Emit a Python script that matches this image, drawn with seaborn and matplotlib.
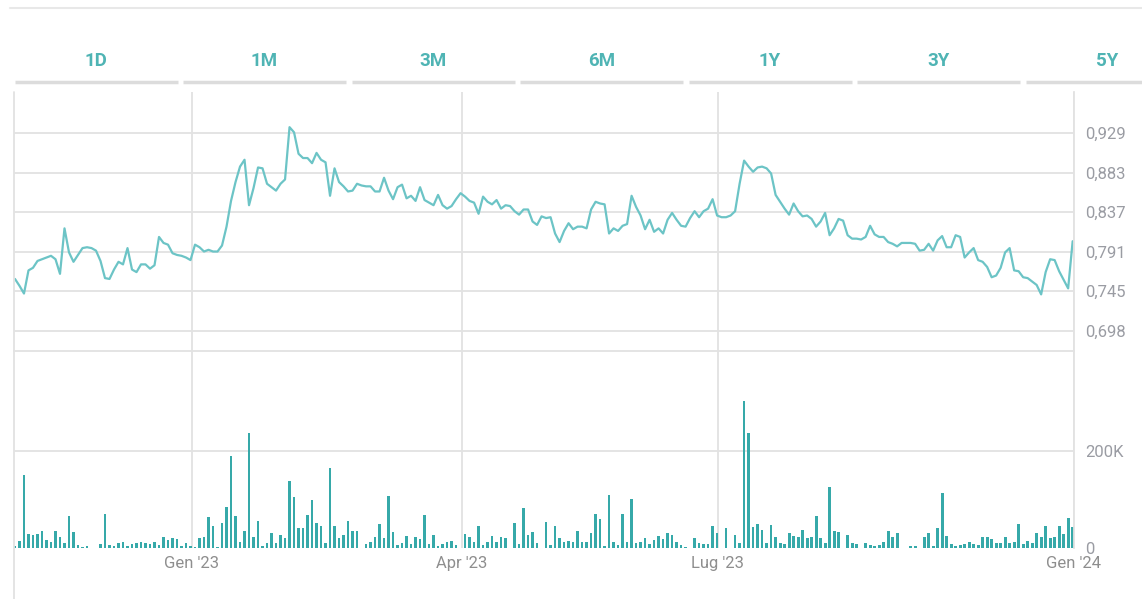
import numpy as np
import pandas as pd
import seaborn as sns
import matplotlib.pyplot as plt
from matplotlib.lines import Line2D

# one entry per trading session (close price, volume in thousands)
price = [
    0.759, 0.751, 0.742, 0.769, 0.772, 0.780, 0.782, 0.784, 0.786, 0.782,
    0.765, 0.818, 0.790, 0.779, 0.787, 0.795, 0.796, 0.795, 0.792, 0.780,
    0.760, 0.759, 0.770, 0.779, 0.776, 0.795, 0.770, 0.767, 0.776, 0.776,
    0.771, 0.775, 0.808, 0.801, 0.799, 0.789, 0.787, 0.786, 0.784, 0.781,
    0.799, 0.796, 0.791, 0.793, 0.791, 0.791, 0.798, 0.820, 0.850, 0.872,
    0.890, 0.898, 0.845, 0.865, 0.889, 0.888, 0.870, 0.866, 0.862, 0.870,
    0.875, 0.936, 0.930, 0.905, 0.900, 0.900, 0.894, 0.906, 0.898, 0.895,
    0.856, 0.888, 0.872, 0.867, 0.861, 0.862, 0.870, 0.868, 0.867, 0.867,
    0.861, 0.861, 0.877, 0.862, 0.852, 0.866, 0.869, 0.853, 0.856, 0.850,
    0.866, 0.851, 0.848, 0.845, 0.857, 0.845, 0.841, 0.844, 0.852, 0.859,
    0.855, 0.850, 0.848, 0.835, 0.855, 0.849, 0.846, 0.851, 0.841, 0.845,
    0.844, 0.838, 0.834, 0.840, 0.840, 0.826, 0.822, 0.832, 0.830, 0.831,
    0.812, 0.802, 0.815, 0.824, 0.817, 0.820, 0.820, 0.818, 0.840, 0.849,
    0.847, 0.846, 0.812, 0.818, 0.815, 0.821, 0.823, 0.856, 0.843, 0.833,
    0.817, 0.828, 0.814, 0.818, 0.812, 0.828, 0.836, 0.828, 0.821, 0.820,
    0.830, 0.838, 0.831, 0.838, 0.841, 0.852, 0.833, 0.831, 0.831, 0.833,
    0.838, 0.870, 0.897, 0.890, 0.884, 0.889, 0.890, 0.888, 0.882, 0.857,
    0.849, 0.841, 0.834, 0.847, 0.838, 0.832, 0.833, 0.829, 0.820, 0.826,
    0.836, 0.810, 0.818, 0.829, 0.827, 0.810, 0.806, 0.806, 0.805, 0.808,
    0.821, 0.811, 0.808, 0.808, 0.802, 0.800, 0.797, 0.801, 0.801, 0.801,
    0.800, 0.792, 0.793, 0.800, 0.792, 0.804, 0.809, 0.796, 0.796, 0.810,
    0.808, 0.784, 0.790, 0.795, 0.781, 0.779, 0.773, 0.761, 0.763, 0.772,
    0.790, 0.795, 0.769, 0.768, 0.761, 0.760, 0.756, 0.752, 0.741, 0.767,
    0.782, 0.781, 0.768, 0.758, 0.748, 0.803,
]

volume_k = [
    4, 15, 150, 29, 27, 29, 36, 16, 13, 36,
    23, 10, 66, 32, 6, 3, 4, 1, 0, 8,
    71, 6, 4, 10, 12, 4, 8, 11, 12, 10,
    8, 12, 6, 22, 16, 20, 19, 4, 10, 4,
    3, 20, 22, 63, 45, 3, 52, 85, 190, 65,
    12, 36, 238, 23, 56, 4, 10, 30, 11, 26,
    20, 139, 106, 41, 41, 68, 98, 52, 45, 10,
    164, 45, 20, 26, 56, 36, 36, 0, 8, 12,
    23, 49, 20, 107, 34, 6, 10, 25, 8, 23,
    18, 68, 8, 27, 4, 8, 13, 15, 6, 0,
    29, 23, 13, 45, 6, 13, 25, 13, 23, 20,
    0, 52, 8, 82, 27, 32, 11, 0, 54, 6,
    45, 20, 13, 15, 13, 36, 13, 13, 30, 71,
    59, 4, 109, 13, 6, 71, 13, 100, 11, 13,
    20, 8, 16, 25, 18, 30, 27, 13, 6, 3,
    0, 20, 11, 8, 8, 45, 30, 0, 41, 0,
    27, 10, 302, 238, 44, 49, 38, 11, 47, 23,
    10, 8, 30, 25, 23, 37, 20, 23, 66, 20,
    11, 126, 36, 32, 0, 27, 10, 8, 0, 10,
    6, 4, 6, 13, 36, 23, 30, 0, 0, 4,
    4, 0, 23, 30, 4, 41, 114, 25, 8, 4,
    6, 8, 13, 8, 6, 23, 23, 18, 11, 10,
    23, 11, 13, 49, 8, 15, 11, 30, 23, 45,
    20, 22, 45, 29, 61, 43,
]

date_ticks = [39.3, 99.3, 156.2, 235.3]
date_labels = ["Gen '23", "Apr '23", "Lug '23", "Gen '24"]
price_ticks = [0.698, 0.745, 0.791, 0.837, 0.883, 0.929]
volume_ticks = [0, 200]
volume_labels = ["0", "200K"]
periods = ["1D", "1M", "3M", "6M", "1Y", "3Y", "5Y"]

LINE = "#6cc4c6"
BAR = "#36a9a9"
TAB = "#4fb4b4"
GRID = "#e2e2e2"
LABEL = "#9a9ca3"

sns.set_theme(style="white")
plt.rcParams["font.family"] = ["Roboto", "DejaVu Sans"]

W, H = 1142, 599
fig = plt.figure(figsize=(W / 100, H / 100), dpi=100)


def rect(l, t, r, b):
    return [l / W, 1 - b / H, (r - l) / W, (b - t) / H]


ax_p = fig.add_axes(rect(14, 92, 1074, 351))
ax_v = fig.add_axes(rect(14, 351, 1074, 548))

df = pd.DataFrame({"session": np.arange(len(price)), "price": price, "volume": volume_k})

sns.lineplot(data=df, x="session", y="price", ax=ax_p, color=LINE, linewidth=1.6)
sns.barplot(data=df, x="session", y="volume", ax=ax_v, color=BAR, native_scale=True,
            width=0.62, errorbar=None, saturation=1, linewidth=0)

for ax in (ax_p, ax_v):
    ax.set_xlim(-0.22, 235.3)
    ax.set_xlabel("")
    ax.set_ylabel("")
    ax.yaxis.tick_right()
    ax.set_xticks(date_ticks)
    ax.set_axisbelow(True)
    ax.grid(True, color=GRID, linewidth=1.3)
    ax.tick_params(length=0, colors=LABEL, labelsize=12)
    ax.tick_params(axis="y", pad=8)
    for side in ("bottom", "left"):
        ax.spines[side].set_visible(False)
    ax.spines["right"].set_color(GRID)
    ax.spines["right"].set_linewidth(1.3)

ax_p.spines["top"].set_visible(False)
ax_p.set_ylim(0.675, 0.977)
ax_p.set_yticks(price_ticks)
ax_p.set_yticklabels([f"{v:.3f}".replace(".", ",") for v in price_ticks])
ax_p.set_xticklabels([])

ax_v.spines["top"].set_color(GRID)
ax_v.spines["top"].set_linewidth(1.3)
ax_v.set_ylim(0, 406)
ax_v.set_yticks(volume_ticks)
ax_v.set_yticklabels(volume_labels)
ax_v.get_ygridlines()[0].set_visible(False)
ax_v.set_xticklabels(date_labels)
ax_v.tick_params(axis="x", pad=6, colors="#8e8e8e")

# card frame
fig.add_artist(Line2D([10 / W, 1], [1 - 8 / H] * 2, color="#e8e8e8", lw=1.5))
fig.add_artist(Line2D([14 / W] * 2, [0, 1 - 92 / H], color=GRID, lw=1.3))

# period tabs
for k, lab in enumerate(periods):
    cx = 96 + 168.5 * k
    fig.text(cx / W, 1 - 61 / H, lab, ha="center", va="center", color=TAB,
             fontsize=13.5, fontweight="semibold")
    fig.add_artist(Line2D([(cx - 81.5) / W, (cx + 81.5) / W], [1 - 82 / H] * 2,
                          color="#dcdcdc", lw=2.5, solid_capstyle="butt"))

fig.savefig("out.png", dpi=100)
